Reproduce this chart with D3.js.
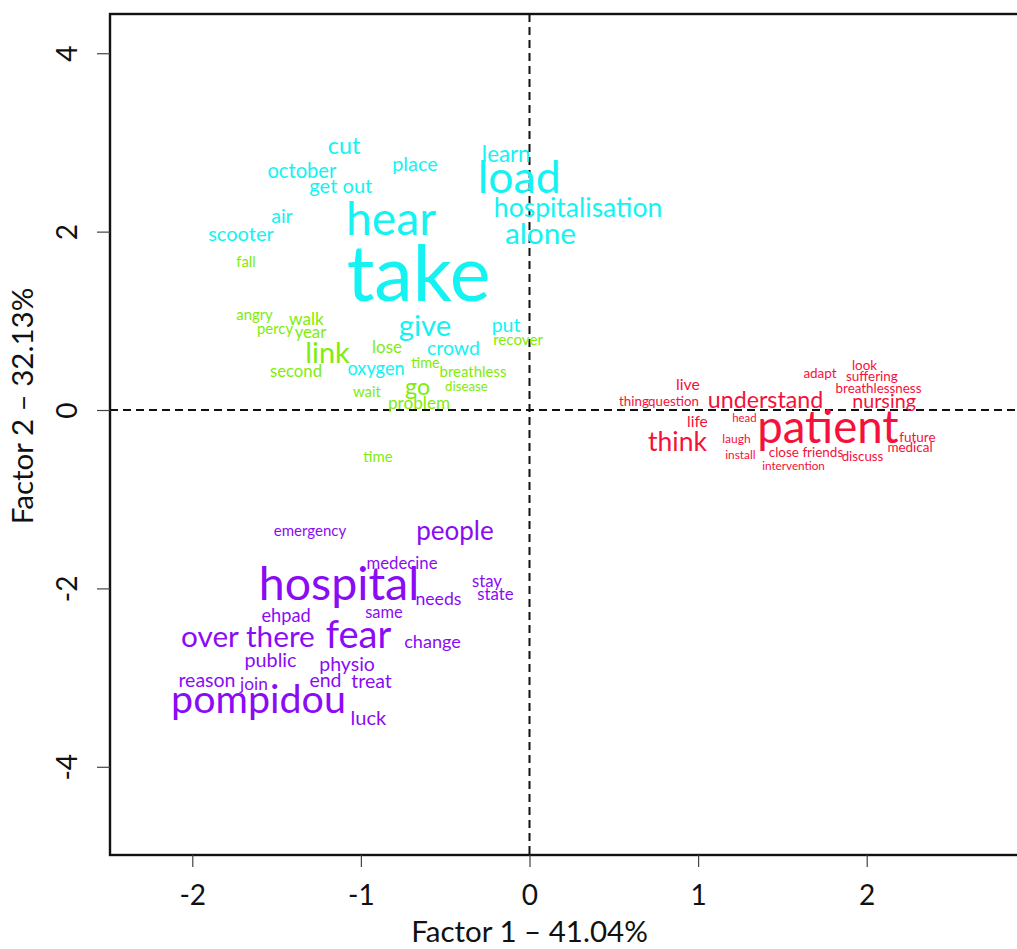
<!DOCTYPE html>
<html>
<head>
<meta charset="utf-8">
<script src="https://cdn.jsdelivr.net/npm/d3@7/dist/d3.min.js"></script>
<style>
  html, body { margin: 0; padding: 0; background: #fff; }
  svg { display: block; }
</style>
</head>
<body>
<svg id="chart" width="1017" height="949"></svg>
<script>
// ---------- DATA (word, factor1, factor2, relative frequency) ----------
const cyanWords = [
  ["cut", -1.100, 2.964, 25], ["october", -1.350, 2.689, 21.7], ["place", -0.679, 2.763, 21.4],
  ["get out", -1.119, 2.515, 21.6], ["learn", -0.138, 2.874, 24], ["load", -0.061, 2.621, 48],
  ["hear", -0.821, 2.157, 49.7], ["hospitalisation", 0.288, 2.276, 28.5], ["alone", 0.065, 1.987, 32],
  ["air", -1.468, 2.179, 21], ["scooter", -1.711, 1.973, 21.6], ["take", -0.658, 1.539, 83],
  ["give", -0.620, 0.953, 31.5], ["put", -0.139, 0.960, 21], ["crowd", -0.451, 0.698, 21],
  ["oxygen", -0.910, 0.469, 19.6]
];
const greenWords = [
  ["fall", -1.681, 1.666, 16], ["angry", -1.631, 1.076, 16], ["walk", -1.323, 1.026, 18.6],
  ["percy", -1.509, 0.919, 16], ["year", -1.299, 0.874, 18], ["link", -1.198, 0.650, 31],
  ["lose", -0.845, 0.714, 18.2], ["recover", -0.068, 0.796, 16.3], ["time", -0.617, 0.531, 15.6],
  ["second", -1.385, 0.444, 18], ["breathless", -0.335, 0.437, 16.1], ["disease", -0.374, 0.269, 14.3],
  ["wait", -0.964, 0.213, 16], ["go", -0.664, 0.269, 25], ["problem", -0.655, 0.084, 18.5],
  ["time", -0.899, -0.516, 16]
];
const redWords = [
  ["adapt", 1.723, 0.419, 14.5], ["look", 1.987, 0.504, 14.4], ["suffering", 2.031, 0.381, 14.5],
  ["breathlessness", 2.070, 0.250, 14.4], ["live", 0.940, 0.291, 17], ["thing", 0.620, 0.104, 14.4],
  ["question", 0.854, 0.104, 14.3], ["understand", 1.400, 0.117, 25], ["nursing", 2.103, 0.101, 21.2],
  ["life", 0.996, -0.121, 16.7], ["head", 1.275, -0.083, 12.3], ["patient", 1.770, -0.179, 49],
  ["think", 0.878, -0.355, 28.5], ["laugh", 1.228, -0.323, 13], ["future", 2.301, -0.298, 14.5],
  ["medical", 2.257, -0.415, 14.5], ["close friends", 1.640, -0.466, 14.5], ["install", 1.251, -0.499, 12.8],
  ["discuss", 1.975, -0.516, 14.3], ["intervention", 1.566, -0.623, 12.6]
];
const purpleWords = [
  ["emergency", -1.302, -1.345, 16.2], ["people", -0.442, -1.345, 28], ["medecine", -0.756, -1.715, 18],
  ["hospital", -1.130, -1.934, 50], ["stay", -0.252, -1.910, 18], ["state", -0.202, -2.059, 18],
  ["needs", -0.540, -2.112, 19], ["same", -0.863, -2.265, 17.7], ["ehpad", -1.444, -2.303, 19.6],
  ["over there", -1.670, -2.528, 32], ["fear", -1.014, -2.511, 41], ["change", -0.575, -2.589, 19.5],
  ["public", -1.536, -2.794, 21.3], ["physio", -1.082, -2.840, 21], ["reason", -1.913, -3.019, 21],
  ["join", -1.634, -3.066, 18.6], ["end", -1.210, -3.027, 21], ["treat", -0.937, -3.038, 21],
  ["pompidou", -1.607, -3.234, 42.4], ["luck", -0.955, -3.446, 21.6]
];
const xTicks = [-2, -1, 0, 1, 2];
const yTicks = [-4, -2, 0, 2, 4];
const xTitle = "Factor 1 \u2013 41.04%";
const yTitle = "Factor 2 \u2013 32.13%";

// ---------- LAYOUT ----------
const FONT = "Lato, 'Open Sans', 'DejaVu Sans', sans-serif";
const box = { left: 110, top: 14, right: 1022, bottom: 855 };
const x = d3.scaleLinear().domain([-2.488, 2.921]).range([box.left, box.right]);
const y = d3.scaleLinear().domain([-4.989, 4.440]).range([box.bottom, box.top]);
const fontSize = d3.scaleLinear().domain([0, 100]).range([0, 93]);
const tickFmt = d => String(d); // plain hyphen-minus like the reference

const clusters = [
  { words: cyanWords, color: "#14F2F2" },
  { words: greenWords, color: "#7FEC0A" },
  { words: redWords, color: "#F5113C" },
  { words: purpleWords, color: "#8A0CF5" }
];

const svg = d3.select("#chart");

// dashed reference lines
svg.append("line")
  .attr("x1", x(0)).attr("x2", x(0)).attr("y1", box.top).attr("y2", box.bottom)
  .attr("stroke", "#111").attr("stroke-width", 2).attr("stroke-dasharray", "8,5");
svg.append("line")
  .attr("x1", box.left).attr("x2", box.right).attr("y1", y(0)).attr("y2", y(0))
  .attr("stroke", "#111").attr("stroke-width", 2).attr("stroke-dasharray", "8,5");

// words
clusters.forEach(c => {
  svg.append("g").selectAll("text")
    .data(c.words)
    .join("text")
    .attr("x", d => x(d[1]))
    .attr("y", d => y(d[2]))
    .attr("dy", "0.37em")
    .attr("text-anchor", "middle")
    .attr("font-family", FONT)
    .attr("font-size", d => fontSize(d[3]) + "px")
    .attr("fill", c.color)
    .text(d => d[0]);
});

// frame
svg.append("rect")
  .attr("x", box.left).attr("y", box.top)
  .attr("width", box.right - box.left).attr("height", box.bottom - box.top)
  .attr("fill", "none").attr("stroke", "#111").attr("stroke-width", 2.4);

// x axis
const xAxis = svg.append("g")
  .attr("transform", `translate(0,${box.bottom})`)
  .call(d3.axisBottom(x).tickValues(xTicks).tickSize(12).tickFormat(tickFmt));
xAxis.select(".domain").remove();
xAxis.selectAll(".tick line").attr("stroke", "#444").attr("stroke-width", 1.2);
xAxis.selectAll(".tick text")
  .attr("y", 50).attr("dy", 0)
  .attr("font-family", FONT).attr("font-size", "28px").attr("fill", "#111");

// y axis
const yAxis = svg.append("g")
  .attr("transform", `translate(${box.left},0)`)
  .call(d3.axisLeft(y).tickValues(yTicks).tickSize(13).tickFormat(tickFmt));
yAxis.select(".domain").remove();
yAxis.selectAll(".tick line").attr("stroke", "#444").attr("stroke-width", 1.2);
yAxis.selectAll(".tick text")
  .attr("x", 0).attr("dy", 0).attr("y", 0)
  .attr("text-anchor", "middle")
  .attr("transform", "translate(-33,0) rotate(-90)")
  .attr("font-family", FONT).attr("font-size", "28px").attr("fill", "#111");

// titles
svg.append("text")
  .attr("x", x(0)).attr("y", 942)
  .attr("text-anchor", "middle")
  .attr("font-family", FONT).attr("font-size", "29.5px").attr("fill", "#111")
  .text(xTitle);
svg.append("text")
  .attr("transform", `translate(33,${y(0) - 4}) rotate(-90)`)
  .attr("text-anchor", "middle")
  .attr("font-family", FONT).attr("font-size", "29.5px").attr("fill", "#111")
  .text(yTitle);
</script>
</body>
</html>
